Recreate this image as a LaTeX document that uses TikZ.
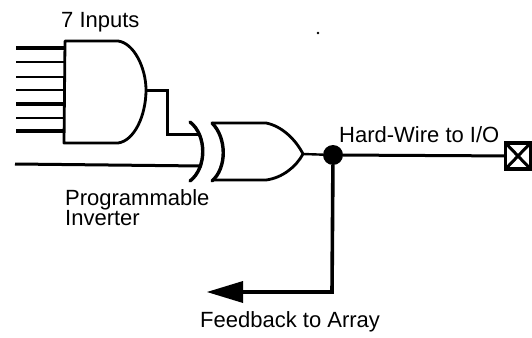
\documentclass[tikz,border=0pt]{standalone}
\usepackage{fontspec}
\setmainfont{Liberation Sans}
\begin{document}
\begin{tikzpicture}[x=1pt,y=-1pt,
  wire/.style={line width=2.4pt,line join=miter},
  thin wire/.style={line width=1.6pt},
  thick wire/.style={line width=3.2pt},
  gate/.style={line width=2.8pt,line join=round},
  lbl/.style={inner sep=0pt,font=\fontsize{22}{20}\selectfont,align=left}]
\useasboundingbox (0,0) rectangle (532,337);
% coordinates
\coordinate (andO) at (146,90);
\coordinate (xorI1) at (200,134);
\coordinate (xorI2) at (202,166);
\coordinate (xorO) at (303,154);
\node[circle,fill=black,minimum size=20pt,inner sep=0pt] (dot) at (333,155) {};
\node[draw,line width=3.8pt,minimum width=25pt,minimum height=26pt,inner sep=0pt,outer sep=0pt] (box) at (518,156) {};
\draw[line width=3pt] (box.north west) -- (box.south east) (box.north east) -- (box.south west);
\coordinate (corner) at (332,292);
\coordinate (tipbase) at (243,292);
\coordinate (tip) at (207,292);
\fill (318,33) circle (1.3pt);
% inputs
\draw[thick wire] (16,48) -- (65,48);
\draw[thin wire] (16,62) -- (65,62);
\draw[thin wire] (16,77) -- (65,77);
\draw[wire] (16,90) -- (65,90);
\draw[thick wire] (16,104) -- (65,104);
\draw[thin wire] (16,118) -- (65,118);
\draw[thick wire] (16,131) -- (65,131);
% AND gate
\draw[gate] (118,41) -- (65,41) -- (64,143) -- (118,143)
  .. controls (134,141) and (146,116) .. (andO)
  .. controls (146,68) and (134,43) .. (118,41);
% AND output
\draw[line width=3pt,line join=miter] (andO) -- (167,90) -- (167,134) -- (xorI1);
\draw[line width=3pt] (15,164) -- (xorI2);
% XOR
\draw[line width=3.4pt,line cap=round] (190,122) .. controls (207,135) and (207,168) .. (190,181);
\draw[line width=3.4pt,line cap=round] (212,123) .. controls (227,138) and (227,168) .. (212,181);
\draw[gate] (212,123) -- (266,123) .. controls (282,126) and (296,140) .. (xorO)
  .. controls (296,167) and (282,178) .. (266,180) -- (212,180);
% output
\draw[wire] (xorO) -- (dot);
\draw[line width=3pt] (dot) -- (box);
\draw[line width=3.6pt,line join=miter] (dot) -- (corner) -- (tipbase);
\fill (tip) -- (243,281) -- (243,303) -- cycle;
% labels
\node[lbl,anchor=west] (l1) at (61,22) {7 Inputs};
\node[lbl,anchor=north west] (l2) at (65,189) {Programmable\\Inverter};
\node[lbl,anchor=west] (l3) at (339,135) {Hard-Wire to I/O};
\node[lbl,anchor=west] (l4) at (200,322) {Feedback to Array};
\end{tikzpicture}
\end{document}
